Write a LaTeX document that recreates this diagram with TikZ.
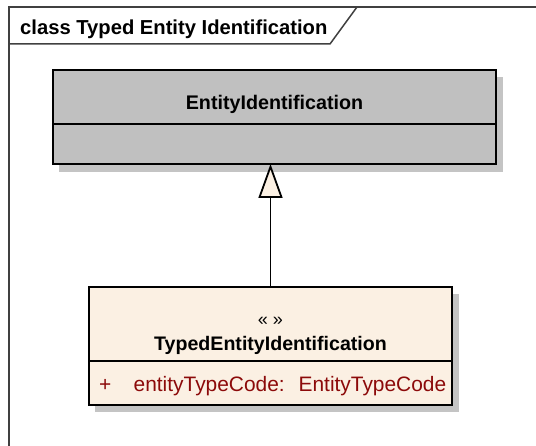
\documentclass[tikz,border=0pt]{standalone}
\usepackage{fontspec}
\setmainfont{Liberation Sans}
\usepackage{xcolor}
\usetikzlibrary{positioning, arrows.meta, backgrounds, calc}
\definecolor{classgray}{RGB}{192,192,192}
\definecolor{shadowgray}{RGB}{196,196,196}
\definecolor{cream}{RGB}{251,240,227}
\definecolor{attrred}{RGB}{140,10,10}
\tikzstyle{frameline} = [draw=black!75, line width=1.5pt]
\tikzstyle{frametitle} = [inner sep=0pt, font=\fontsize{20.2}{23}\selectfont\bfseries]
\tikzstyle{compart} = [rectangle, draw=black, line width=1.8pt, outer sep=0pt, inner sep=0pt]
\tikzstyle{basehead} = [compart, minimum width=443pt, minimum height=54pt, fill=classgray, text height=30pt, text depth=4pt, font=\fontsize{19.7}{23}\selectfont\bfseries]
\tikzstyle{basebody} = [compart, minimum width=443pt, minimum height=40pt, fill=classgray]
\tikzstyle{typedhead} = [compart, minimum width=363pt, minimum height=74pt, fill=cream, align=center, font=\fontsize{19.6}{25}\selectfont\bfseries]
\tikzstyle{typedbody} = [compart, minimum width=363pt, minimum height=44pt, fill=cream, text width=343pt, inner xsep=10pt, align=left, text height=22pt, text depth=4pt, text=attrred, font=\fontsize{20.9}{23}\selectfont]
\tikzstyle{shadow} = [fill=shadowgray]
\tikzstyle{inherit} = [line width=1.8pt, -{Triangle[open, fill=cream, length=34pt, width=24pt]}]

\begin{document}
\begin{tikzpicture}[x=1pt, y=-1pt]
    \useasboundingbox (0,0) rectangle (536,446);
    \clip (0,0) rectangle (536,446);
    % diagram frame
    \draw [frameline] (9,460) -- (9,7) -- (550,7);
    \draw [frameline] (9,44) -- (330,44) -- (357,7);
    \node (title) [frametitle, anchor=base west] at (20,35) {class Typed Entity Identification};

    % classes
    \node (base) [basehead, anchor=north west] at (53,70) {EntityIdentification};
    \node (baseattr) [basebody, below=0pt of base] {};
    \node (typed) [typedhead, anchor=north west] at (89,287) {\rule{0pt}{33pt}{\fontsize{18}{25}\selectfont\mdseries « »}\\TypedEntityIdentification};
    \node (typedattr) [typedbody, below=0pt of typed] {\makebox[0pt][l]{+\hspace{22.5pt}entityTypeCode:\ \ EntityTypeCode}};

    \begin{scope}[on background layer]
        \fill [shadow] ($(base.north west)+(6,7)$) rectangle ($(baseattr.south east)+(7,8)$);
        \fill [shadow] ($(typed.north west)+(6,7)$) rectangle ($(typedattr.south east)+(7,7)$);
    \end{scope}

    \draw [inherit] (typed.north) -- (typed.north |- baseattr.south);
\end{tikzpicture}
\end{document}
